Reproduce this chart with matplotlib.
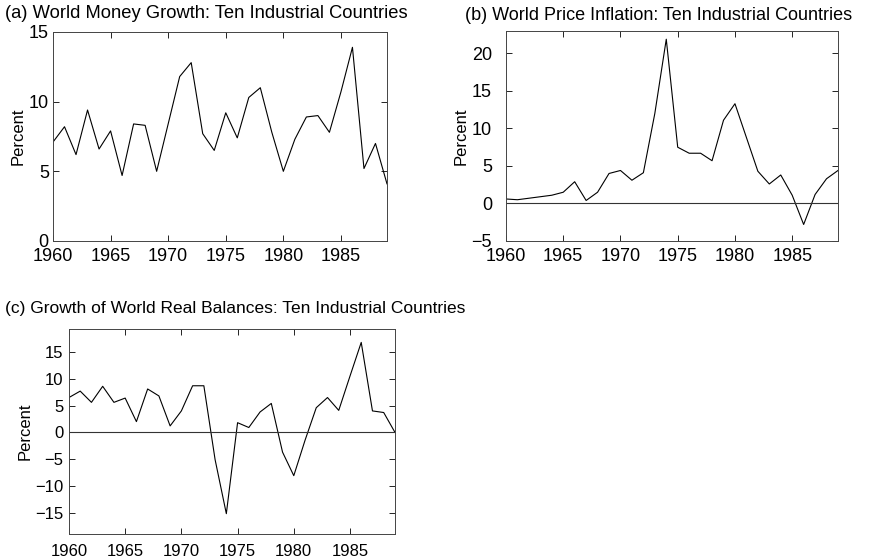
import numpy as np
import matplotlib.pyplot as plt

plt.rcParams['font.family'] = ['Liberation Sans', 'DejaVu Sans']

# Years 1960-1989
years = np.arange(1960, 1990)

# (a) World money growth, percent
money_growth = [7.1, 8.2, 6.2, 9.4, 6.6, 7.9, 4.7, 8.4, 8.3, 5.0,
                8.4, 11.8, 12.8, 7.7, 6.5, 9.2, 7.4, 10.3, 11.0, 7.8,
                5.0, 7.3, 8.9, 9.0, 7.8, 10.7, 13.9, 5.2, 7.0, 4.1]

# (b) World price inflation, percent
price_inflation = [0.6, 0.5, 0.7, 0.9, 1.1, 1.5, 2.9, 0.4, 1.5, 4.0,
                   4.4, 3.1, 4.1, 12.0, 21.9, 7.5, 6.7, 6.7, 5.7, 11.1,
                   13.3, 8.8, 4.3, 2.6, 3.8, 1.1, -2.8, 1.2, 3.3, 4.4]

# (c) Growth of world real balances, percent
real_balances = [6.5, 7.7, 5.6, 8.6, 5.6, 6.4, 2.0, 8.1, 6.8, 1.2,
                 4.0, 8.7, 8.7, -5.1, -15.2, 1.8, 0.9, 3.8, 5.4, -3.7,
                 -8.1, -1.5, 4.6, 6.5, 4.1, 10.5, 16.8, 4.0, 3.7, 0.0]

xticks = [1960, 1965, 1970, 1975, 1980, 1985]

fig = plt.figure(figsize=(8.73, 5.59), dpi=100)

def style_axes(ax, ylim, yticks, xpad, ypad, size):
    ax.set_xlim(1960, 1989)
    ax.set_ylim(*ylim)
    ax.set_xticks(xticks)
    ax.set_yticks(yticks)
    ax.tick_params(direction='in', length=4, width=0.6, top=True, right=True,
                   labelsize=size, colors='black')
    ax.tick_params(axis='x', pad=xpad)
    ax.tick_params(axis='y', pad=ypad)
    for s in ax.spines.values():
        s.set_linewidth(0.7)
        s.set_color('#444444')
    ax.set_ylabel('Percent', fontsize=12, labelpad=2)

# Panel (a)
ax1 = fig.add_axes([0.0607, 0.5689, 0.3826, 0.3739])
ax1.plot(years, money_growth, color='black', lw=0.8)
style_axes(ax1, (0, 15), [0, 5, 10, 15], 5, 3, 13)
fig.text(0.006, 0.976, '(a) World Money Growth: Ten Industrial Countries',
         fontsize=13.2, va='center', ha='left')

# Panel (b)
ax2 = fig.add_axes([0.5796, 0.5689, 0.3803, 0.3757])
ax2.plot(years, price_inflation, color='black', lw=0.8)
ax2.axhline(0, color='#333333', lw=0.8)
style_axes(ax2, (-5, 23), [-5, 0, 5, 10, 15, 20], 5, 10, 13)
fig.text(0.533, 0.973, '(b) World Price Inflation: Ten Industrial Countries',
         fontsize=13, va='center', ha='left')

# Panel (c)
ax3 = fig.add_axes([0.079, 0.0447, 0.3734, 0.3667])
ax3.plot(years, real_balances, color='black', lw=0.8)
ax3.axhline(0, color='#333333', lw=0.8)
style_axes(ax3, (-19, 19.3), [-15, -10, -5, 0, 5, 10, 15], 7, 4, 12)
fig.text(0.006, 0.449, '(c) Growth of World Real Balances: Ten Industrial Countries',
         fontsize=12.5, va='center', ha='left')

fig.savefig('out.png', dpi=100)
